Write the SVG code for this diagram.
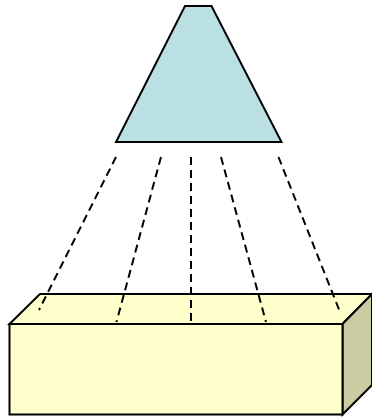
<svg xmlns="http://www.w3.org/2000/svg" width="372" height="417" viewBox="0 0 372 417">
<style>
.s{stroke:#000;stroke-width:2;stroke-linejoin:miter}
.d{stroke:#000;stroke-width:2;stroke-dasharray:8,5;fill:none}
</style>
<rect width="372" height="417" fill="#fff"/>
<g id="lamp">
<polygon class="s" points="185,6 211.5,6 281.5,142 116,142" fill="#BBE0E3"/>
</g>
<g id="box">
<polygon class="s" points="9.5,324 40,294 372,294 342.5,324" fill="#FFFFCC"/>
<polygon class="s" points="342.5,324 372,294 372,385 342.5,414.5" fill="#CCCCA3"/>
<rect class="s" x="9.5" y="324" width="333" height="90.5" fill="#FFFFCC"/>
</g>
<g id="connectors">
<line class="d" x1="116" y1="157" x2="39" y2="310"/>
<line class="d" x1="161" y1="157" x2="116.5" y2="322"/>
<line class="d" x1="191" y1="157" x2="191" y2="324"/>
<line class="d" x1="221" y1="157" x2="266" y2="322"/>
<line class="d" x1="278.5" y1="157" x2="340" y2="312"/>
</g>
</svg>
